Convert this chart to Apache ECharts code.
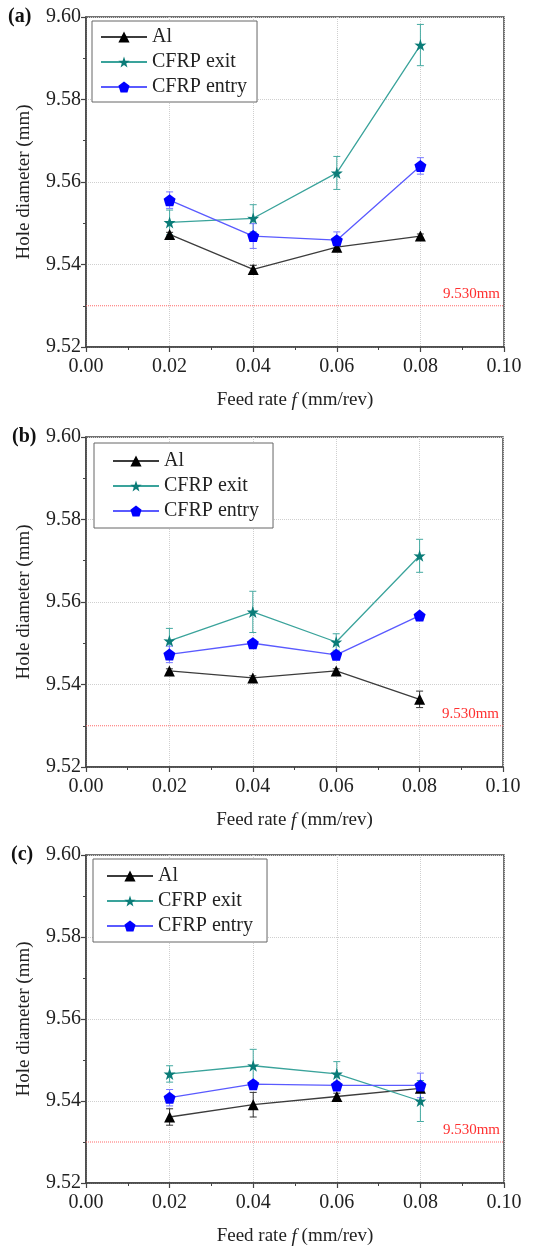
<!DOCTYPE html>
<html>
<head>
<meta charset="utf-8">
<script src="https://cdn.jsdelivr.net/npm/echarts@6/dist/echarts.min.js"></script>
<style>
html,body{margin:0;padding:0;background:#fff;}
#chart{width:541px;height:1247px;}
</style>
</head>
<body>
<div id="chart"></div>
<script>
// ---- data ----
const feedRates = [0.02, 0.04, 0.06, 0.08];
const xTicks = [0.00, 0.02, 0.04, 0.06, 0.08, 0.10];
const yTicks = [9.52, 9.54, 9.56, 9.58, 9.60];
const seriesNames = ['Al', 'CFRP exit', 'CFRP entry'];
const panelLabels = ['(a)', '(b)', '(c)'];
const refValue = 9.530;

// panel (a)
const alA      = [9.5473, 9.5388, 9.5442, 9.5469];
const alErrA   = [0.0005, 0.0010, 0.0005, 0.0005];
const exitA    = [9.5502, 9.5512, 9.5622, 9.5932];
const exitErrA = [0.0030, 0.0033, 0.0040, 0.0050];
const entryA   = [9.5556, 9.5469, 9.5459, 9.5639];
const entryErrA= [0.0020, 0.0030, 0.0020, 0.0020];

// panel (b)
const alB      = [9.5433, 9.5416, 9.5433, 9.5364];
const alErrB   = [0.0005, 0.0005, 0.0005, 0.0020];
const exitB    = [9.5506, 9.5576, 9.5503, 9.5712];
const exitErrB = [0.0030, 0.0050, 0.0020, 0.0040];
const entryB   = [9.5473, 9.5500, 9.5472, 9.5567];
const entryErrB= [0.0020, 0.0008, 0.0008, 0.0006];

// panel (c)
const alC      = [9.5361, 9.5391, 9.5411, 9.5431];
const alErrC   = [0.0020, 0.0030, 0.0008, 0.0008];
const exitC    = [9.5466, 9.5486, 9.5466, 9.5400];
const exitErrC = [0.0020, 0.0040, 0.0030, 0.0050];
const entryC   = [9.5408, 9.5441, 9.5438, 9.5438];
const entryErrC= [0.0020, 0.0008, 0.0008, 0.0030];

const panels = [
  {al: alA, alErr: alErrA, exit: exitA, exitErr: exitErrA, entry: entryA, entryErr: entryErrA},
  {al: alB, alErr: alErrB, exit: exitB, exitErr: exitErrB, entry: entryB, entryErr: entryErrB},
  {al: alC, alErr: alErrC, exit: exitC, exitErr: exitErrC, entry: entryC, entryErr: entryErrC}
];

// ---- styling / layout ----
const FONT = '"Liberation Serif", "DejaVu Serif", serif';
const STAR = 'path://M50,0 L61.8,35.1 L97.6,34.5 L69.1,56.7 L79.4,90.5 L50,70 L20.6,90.5 L30.9,56.7 L2.4,34.5 L38.2,35.1 Z';
const PENT = 'path://M50,0 L97.6,34.5 L79.4,90.5 L20.6,90.5 L2.4,34.5 Z';

const grids = [
  {left: 86, top: 17, width: 418, height: 330},
  {left: 86, top: 437, width: 417, height: 330},
  {left: 86, top: 855, width: 418, height: 332}
];
const legendPos = [
  {left: 92, top: 21, padding: [6, 10, 5, 8]},
  {left: 94, top: 443, padding: [8, 14, 7, 18]},
  {left: 93, top: 859, padding: [7, 14, 6, 13]}
];
const labelPos = [{x: 8, y: 17}, {x: 12, y: 437}, {x: 11, y: 855}];

const styles = {
  'Al':        {line: '#3c3c3c', mark: '#000000', err: '#333333', symbol: 'triangle', size: 11},
  'CFRP exit': {line: '#3aa39b', mark: '#0b7c78', err: '#45aaa2', symbol: STAR, size: 12},
  'CFRP entry':{line: '#5a5aff', mark: '#0000ff', err: '#7a7aff', symbol: PENT, size: 12}
};

function errData(vals, errs) {
  return feedRates.map((x, i) => [x, vals[i] - errs[i], vals[i] + errs[i]]);
}

const option = {
  animation: false,
  backgroundColor: '#fff',
  textStyle: {fontFamily: FONT},
  grid: [], xAxis: [], yAxis: [], legend: [], series: [], graphic: []
};

panels.forEach((p, k) => {
  option.grid.push(Object.assign({show: true, borderColor: '#444', borderWidth: 1.5, backgroundColor: 'transparent'}, grids[k]));
  option.xAxis.push({
    type: 'value', gridIndex: k, min: xTicks[0], max: xTicks[xTicks.length - 1], interval: 0.02,
    name: 'Feed rate {i|f} (mm/rev)', nameLocation: 'middle', nameGap: 44,
    nameTextStyle: {fontFamily: FONT, fontSize: 19, color: '#222',
      rich: {i: {fontFamily: FONT, fontSize: 19, fontStyle: 'italic', color: '#222'}}},
    axisLine: {lineStyle: {color: '#444', width: 1.5}},
    axisTick: {show: true, length: 5, lineStyle: {color: '#444', width: 1.2}},
    minorTick: {show: true, splitNumber: 2, length: 3, lineStyle: {color: '#444'}},
    axisLabel: {fontFamily: FONT, fontSize: 20, color: '#222', margin: 10, formatter: v => v.toFixed(2)},
    splitLine: {show: true, lineStyle: {color: '#cfcfcf', type: 'dotted', width: 1}}
  });
  option.yAxis.push({
    type: 'value', gridIndex: k, min: yTicks[0], max: yTicks[yTicks.length - 1], interval: 0.02,
    name: 'Hole diameter (mm)', nameLocation: 'middle', nameGap: 52,
    nameTextStyle: {fontFamily: FONT, fontSize: 19, color: '#222'},
    axisLine: {lineStyle: {color: '#444', width: 1.5}},
    axisTick: {show: true, length: 5, lineStyle: {color: '#444', width: 1.2}},
    minorTick: {show: true, splitNumber: 2, length: 3, lineStyle: {color: '#444'}},
    axisLabel: {fontFamily: FONT, fontSize: 20, color: '#222', margin: 5, formatter: v => v.toFixed(2)},
    splitLine: {show: true, lineStyle: {color: '#cfcfcf', type: 'dotted', width: 1}}
  });
  option.legend.push(Object.assign({
    orient: 'vertical', data: seriesNames, itemWidth: 46, itemHeight: 14, itemGap: 5,
    textStyle: {fontFamily: FONT, fontSize: 20, color: '#222'},
    backgroundColor: '#fff', borderColor: '#666', borderWidth: 1, borderRadius: 0,
    selectedMode: false
  }, legendPos[k]));
  option.graphic.push({
    type: 'text', left: labelPos[k].x, top: labelPos[k].y - 10,
    style: {text: panelLabels[k], font: 'bold 20px ' + FONT, fill: '#111'}
  });

  // reference line 9.530 mm
  option.series.push({
    type: 'line', name: 'ref' + k, xAxisIndex: k, yAxisIndex: k, z: 1, silent: true,
    symbol: 'none', showSymbol: false,
    data: [[xTicks[0], refValue], [xTicks[xTicks.length - 1], refValue]],
    lineStyle: {color: '#ff6a6a', type: 'dotted', width: 1},
    itemStyle: {color: '#ff6a6a'},
    markLine: {
      silent: true, symbol: 'none',
      lineStyle: {color: 'rgba(255,255,255,0)', width: 0.01, type: 'solid'},
      label: {show: true, position: 'insideEndTop', formatter: refValue.toFixed(3) + 'mm',
        color: '#ff3030', fontFamily: FONT, fontSize: 15, distance: 4},
      data: [{yAxis: refValue}]
    }
  });

  const vals = {'Al': [p.al, p.alErr], 'CFRP exit': [p.exit, p.exitErr], 'CFRP entry': [p.entry, p.entryErr]};
  seriesNames.forEach(name => {
    const st = styles[name];
    const [v, e] = vals[name];
    option.series.push({
      type: 'custom', name: name + ' err', xAxisIndex: k, yAxisIndex: k, z: 2,
      data: errData(v, e),
      renderItem: function (params, api) {
        const x = api.value(0);
        const lo = api.coord([x, api.value(1)]);
        const hi = api.coord([x, api.value(2)]);
        const w = 3.5;
        const s = {stroke: st.err, lineWidth: 1};
        return {type: 'group', children: [
          {type: 'line', shape: {x1: lo[0], y1: lo[1], x2: hi[0], y2: hi[1]}, style: s},
          {type: 'line', shape: {x1: lo[0] - w, y1: lo[1], x2: lo[0] + w, y2: lo[1]}, style: s},
          {type: 'line', shape: {x1: hi[0] - w, y1: hi[1], x2: hi[0] + w, y2: hi[1]}, style: s}
        ]};
      }
    });
    option.series.push({
      type: 'line', name: name, xAxisIndex: k, yAxisIndex: k, z: 3,
      data: feedRates.map((x, i) => [x, v[i]]),
      symbol: st.symbol, symbolSize: st.size, showSymbol: true,
      lineStyle: {color: st.line, width: 1.3},
      itemStyle: {color: st.mark, borderWidth: 0}
    });
  });
});

const chart = echarts.init(document.getElementById('chart'), null, {renderer: 'canvas'});
chart.setOption(option);
</script>
</body>
</html>
